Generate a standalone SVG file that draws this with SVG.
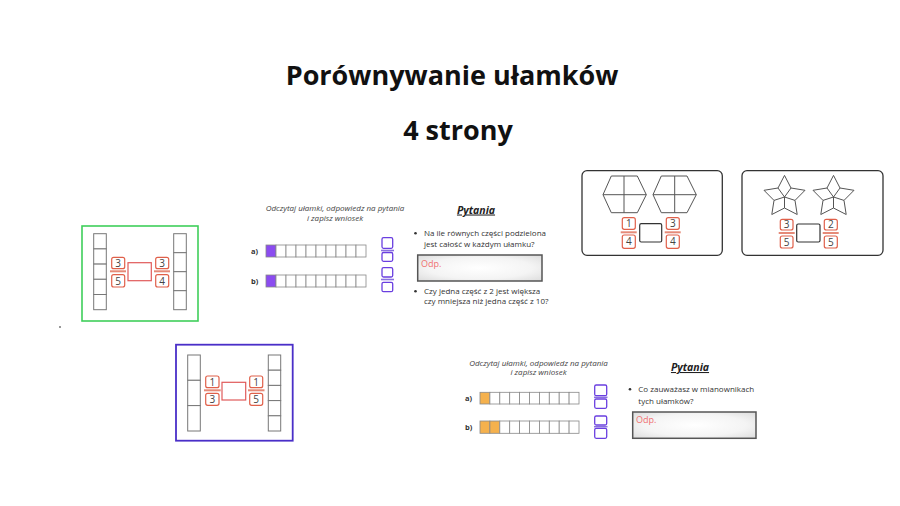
<svg xmlns="http://www.w3.org/2000/svg" width="900" height="506" viewBox="0 0 900 506">
<defs>
<radialGradient id="odpg" cx="0.5" cy="0.5" r="0.7">
<stop offset="0" stop-color="#ffffff"/>
<stop offset="0.6" stop-color="#f4f4f4"/>
<stop offset="1" stop-color="#dcdcdc"/>
</radialGradient>
<style>
.title{font-family:"Open Sans","Noto Sans",sans-serif;font-weight:bold;font-size:27px;fill:#111;text-anchor:middle}
.cell{fill:#fff;stroke:#777;stroke-width:1}
.fb{fill:#fff;stroke:#e0604a;stroke-width:1.2;rx:2}
.fl{stroke:#e58a78;stroke-width:2}
.num{font-family:"Open Sans","Noto Sans",sans-serif;font-size:10px;fill:#444;text-anchor:middle}
.mid{fill:#fff;stroke:#e05a5a;stroke-width:1.2}
.midd{fill:#fff;stroke:#333;stroke-width:1.2}
.card{fill:#fff;stroke:#333;stroke-width:1.3}
.shape{fill:#fff;stroke:#555;stroke-width:1}
.instr{font-family:"Open Sans","Noto Sans",sans-serif;font-style:italic;font-size:8px;fill:#444;text-anchor:middle}
.lab{font-family:"Open Sans","Noto Sans",sans-serif;font-weight:bold;font-size:7.5px;fill:#333}
.bar{fill:#fff;stroke:#888;stroke-width:0.8}
.pb{fill:#fff;stroke:#6a3fe0;stroke-width:1.3}
.pl{stroke:#8a70e0;stroke-width:1.6}
.pyt{font-family:"Open Sans","Noto Sans",sans-serif;font-weight:bold;font-style:italic;font-size:10.5px;fill:#222;text-anchor:middle;text-decoration:underline}
.q{font-family:"Open Sans","Noto Sans",sans-serif;font-size:8px;fill:#333}
.odp{fill:url(#odpg);stroke:#555;stroke-width:1.5}
.odpt{font-family:"Open Sans","Noto Sans",sans-serif;font-size:9px;fill:#f07070}
</style>
</defs>
<rect width="900" height="506" fill="#fff"/>

<g id="title">
<text class="title" x="452" y="85">Porównywanie ułamków</text>
<text class="title" x="458" y="140">4 strony</text>
</g>

<rect x="59" y="326" width="2" height="2" fill="#999"/>

<g id="green-card">
<rect x="82" y="226" width="116" height="95" fill="#fff" stroke="#3fcf5a" stroke-width="1.6"/>
<g>
<rect class="cell" x="93.7" y="233.7" width="12.6" height="15.2"/>
<rect class="cell" x="93.7" y="248.9" width="12.6" height="15.2"/>
<rect class="cell" x="93.7" y="264.1" width="12.6" height="15.2"/>
<rect class="cell" x="93.7" y="279.3" width="12.6" height="15.2"/>
<rect class="cell" x="93.7" y="294.5" width="12.6" height="15.2"/>
</g>
<g>
<rect class="cell" x="173.7" y="233.7" width="12.6" height="19"/>
<rect class="cell" x="173.7" y="252.7" width="12.6" height="19"/>
<rect class="cell" x="173.7" y="271.7" width="12.6" height="19"/>
<rect class="cell" x="173.7" y="290.7" width="12.6" height="19"/>
</g>
<rect class="fb" x="111.7" y="257.3" width="13" height="11.4"/>
<line class="fl" x1="110" y1="271.3" x2="126" y2="271.3"/>
<rect class="fb" x="111.7" y="274.7" width="13" height="12.3"/>
<text class="num" x="118.2" y="266.5">3</text>
<text class="num" x="118.2" y="284.5">5</text>
<rect class="mid" x="128" y="262.7" width="23.3" height="18"/>
<rect class="fb" x="155.7" y="257.3" width="13" height="11.4"/>
<line class="fl" x1="154" y1="271.3" x2="170" y2="271.3"/>
<rect class="fb" x="155.7" y="274.7" width="13" height="12.3"/>
<text class="num" x="162.2" y="266.5">3</text>
<text class="num" x="162.2" y="284.5">4</text>
</g>

<g id="worksheet-1">
<text class="instr" x="335" y="211">Odczytaj ułamki, odpowiedz na pytania</text>
<text class="instr" x="335" y="221">i zapisz wniosek</text>
<text class="lab" x="251" y="254">a)</text>
<text class="lab" x="251" y="284">b)</text>
<g>
<rect x="266" y="245" width="10" height="12" fill="#8b4cf0" stroke="#888" stroke-width="0.8"/>
<rect class="bar" x="276" y="245" width="10" height="12"/><rect class="bar" x="286" y="245" width="10" height="12"/>
<rect class="bar" x="296" y="245" width="10" height="12"/><rect class="bar" x="306" y="245" width="10" height="12"/>
<rect class="bar" x="316" y="245" width="10" height="12"/><rect class="bar" x="326" y="245" width="10" height="12"/>
<rect class="bar" x="336" y="245" width="10" height="12"/><rect class="bar" x="346" y="245" width="10" height="12"/>
<rect class="bar" x="356" y="245" width="10" height="12"/>
</g>
<g>
<rect x="266" y="275" width="10" height="12" fill="#8b4cf0" stroke="#888" stroke-width="0.8"/>
<rect class="bar" x="276" y="275" width="10" height="12"/><rect class="bar" x="286" y="275" width="10" height="12"/>
<rect class="bar" x="296" y="275" width="10" height="12"/><rect class="bar" x="306" y="275" width="10" height="12"/>
<rect class="bar" x="316" y="275" width="10" height="12"/><rect class="bar" x="326" y="275" width="10" height="12"/>
<rect class="bar" x="336" y="275" width="10" height="12"/><rect class="bar" x="346" y="275" width="10" height="12"/>
<rect class="bar" x="356" y="275" width="10" height="12"/>
</g>
<rect class="pb" x="382" y="237.7" width="10.7" height="10.6" rx="1.5"/>
<line class="pl" x1="381" y1="250.5" x2="394" y2="250.5"/>
<rect class="pb" x="382" y="252.5" width="10.7" height="8.8" rx="1.5"/>
<rect class="pb" x="382" y="267.7" width="10.7" height="9.3" rx="1.5"/>
<line class="pl" x1="381" y1="279.5" x2="394" y2="279.5"/>
<rect class="pb" x="382" y="282.3" width="10.7" height="9.4" rx="1.5"/>

<text class="pyt" x="476" y="213.5">Pytania</text>
<circle cx="415.5" cy="233.3" r="1.3" fill="#333"/>
<text class="q" x="424" y="236">Na ile równych części podzielona</text>
<text class="q" x="424" y="247.3">jest całość w każdym ułamku?</text>
<rect class="odp" x="417.7" y="255" width="124.3" height="26"/>
<text class="odpt" x="421" y="266.5">Odp.</text>
<circle cx="415.5" cy="291.3" r="1.3" fill="#333"/>
<text class="q" x="424" y="294">Czy jedna część z 2 jest większa</text>
<text class="q" x="424" y="304.3">czy mniejsza niż jedna część z 10?</text>
</g>

<g id="hexagon-card">
<rect class="card" x="582" y="170.7" width="140.3" height="84.6" rx="5"/>
<polygon class="shape" points="603,194.7 611.3,176 637.3,176 646.3,194.7 637.3,212.7 611.3,212.7"/>
<line x1="624" y1="176" x2="624" y2="212.7" stroke="#555" stroke-width="1"/>
<line x1="603" y1="194.7" x2="646.3" y2="194.7" stroke="#555" stroke-width="1"/>
<polygon class="shape" points="653,194.7 661.3,176 687,176 696.3,194.7 687,212.7 661.3,212.7"/>
<line x1="674.7" y1="176" x2="674.7" y2="212.7" stroke="#555" stroke-width="1"/>
<line x1="653" y1="194.7" x2="696.3" y2="194.7" stroke="#555" stroke-width="1"/>
<rect class="fb" x="622.3" y="217.7" width="13" height="11.6"/>
<line class="fl" x1="620.7" y1="232.3" x2="636.7" y2="232.3"/>
<rect class="fb" x="622.3" y="235" width="13" height="13.3"/>
<text class="num" x="628.8" y="227">1</text>
<text class="num" x="628.8" y="245.3">4</text>
<rect class="midd" x="639.7" y="223.7" width="22" height="18.3" rx="1.5"/>
<rect class="fb" x="666.3" y="217.7" width="13" height="11.6"/>
<line class="fl" x1="664.7" y1="232.3" x2="680.7" y2="232.3"/>
<rect class="fb" x="666.3" y="235" width="13" height="13.3"/>
<text class="num" x="672.8" y="227">3</text>
<text class="num" x="672.8" y="245.3">4</text>
</g>

<g id="star-card">
<rect class="card" x="742" y="170.7" width="141" height="84.6" rx="5"/>
<g transform="translate(784.5,197)">
<polygon class="shape" points="0,-21.6 6.5,-9 20.5,-6.7 10.5,3.4 12.7,17.5 0,11 -12.7,17.5 -10.5,3.4 -20.5,-6.7 -6.5,-9"/>
<path d="M0,0 L6.5,-9 M0,0 L10.5,3.4 M0,0 L0,11 M0,0 L-10.5,3.4 M0,0 L-6.5,-9" stroke="#555" stroke-width="1" fill="none"/>
</g>
<g transform="translate(833.5,197)">
<polygon class="shape" points="0,-21.6 6.5,-9 20.5,-6.7 10.5,3.4 12.7,17.5 0,11 -12.7,17.5 -10.5,3.4 -20.5,-6.7 -6.5,-9"/>
<path d="M0,0 L6.5,-9 M0,0 L10.5,3.4 M0,0 L0,11 M0,0 L-10.5,3.4 M0,0 L-6.5,-9" stroke="#555" stroke-width="1" fill="none"/>
</g>
<rect class="fb" x="780.3" y="219.3" width="12.7" height="10.7"/>
<line class="fl" x1="778.7" y1="233" x2="794.7" y2="233"/>
<rect class="fb" x="780.3" y="236" width="12.7" height="12"/>
<text class="num" x="786.7" y="228">3</text>
<text class="num" x="786.7" y="245.5">5</text>
<rect class="midd" x="796.7" y="224" width="23.3" height="18" rx="1.5"/>
<rect class="fb" x="824.3" y="219.3" width="13" height="10.7"/>
<line class="fl" x1="822.7" y1="233" x2="838.7" y2="233"/>
<rect class="fb" x="824.3" y="236" width="13" height="12"/>
<text class="num" x="830.8" y="228">2</text>
<text class="num" x="830.8" y="245.5">5</text>
</g>

<g id="blue-card">
<rect x="176" y="344.7" width="116.7" height="96" fill="#fff" stroke="#4a2fc8" stroke-width="1.8"/>
<rect class="cell" x="187.7" y="355" width="12.6" height="25.3"/>
<rect class="cell" x="187.7" y="380.3" width="12.6" height="25.3"/>
<rect class="cell" x="187.7" y="405.6" width="12.6" height="25.4"/>
<rect class="cell" x="268.3" y="355" width="12.4" height="15.2"/>
<rect class="cell" x="268.3" y="370.2" width="12.4" height="15.2"/>
<rect class="cell" x="268.3" y="385.4" width="12.4" height="15.2"/>
<rect class="cell" x="268.3" y="400.6" width="12.4" height="15.2"/>
<rect class="cell" x="268.3" y="415.8" width="12.4" height="15.2"/>
<rect class="fb" x="205.7" y="376" width="13.3" height="11.7"/>
<line class="fl" x1="204" y1="390.3" x2="220.7" y2="390.3"/>
<rect class="fb" x="205.7" y="393.3" width="13.3" height="12"/>
<text class="num" x="212.3" y="385.5">1</text>
<text class="num" x="212.3" y="403">3</text>
<rect class="mid" x="222" y="382.3" width="23.7" height="17.7"/>
<rect class="fb" x="249.7" y="376" width="13" height="11.7"/>
<line class="fl" x1="248" y1="390.3" x2="264.5" y2="390.3"/>
<rect class="fb" x="249.7" y="393.3" width="13" height="12"/>
<text class="num" x="256.2" y="385.5">1</text>
<text class="num" x="256.2" y="403">5</text>
</g>

<g id="worksheet-2">
<text class="instr" x="538.5" y="365.7">Odczytaj ułamki, odpowiedz na pytania</text>
<text class="instr" x="538.5" y="375">i zapisz wniosek</text>
<text class="lab" x="465" y="401">a)</text>
<text class="lab" x="465" y="430">b)</text>
<g>
<rect x="480" y="392.3" width="9.9" height="11.7" fill="#f5b14d" stroke="#888" stroke-width="0.8"/>
<rect class="bar" x="489.9" y="392.3" width="9.9" height="11.7"/><rect class="bar" x="499.8" y="392.3" width="9.9" height="11.7"/>
<rect class="bar" x="509.7" y="392.3" width="9.9" height="11.7"/><rect class="bar" x="519.6" y="392.3" width="9.9" height="11.7"/>
<rect class="bar" x="529.5" y="392.3" width="9.9" height="11.7"/><rect class="bar" x="539.4" y="392.3" width="9.9" height="11.7"/>
<rect class="bar" x="549.3" y="392.3" width="9.9" height="11.7"/><rect class="bar" x="559.2" y="392.3" width="9.9" height="11.7"/>
<rect class="bar" x="569.1" y="392.3" width="9.9" height="11.7"/>
</g>
<g>
<rect x="480" y="421" width="9.9" height="12.3" fill="#f5b14d" stroke="#888" stroke-width="0.8"/>
<rect x="489.9" y="421" width="9.9" height="12.3" fill="#f5b14d" stroke="#888" stroke-width="0.8"/>
<rect class="bar" x="499.8" y="421" width="9.9" height="12.3"/>
<rect class="bar" x="509.7" y="421" width="9.9" height="12.3"/><rect class="bar" x="519.6" y="421" width="9.9" height="12.3"/>
<rect class="bar" x="529.5" y="421" width="9.9" height="12.3"/><rect class="bar" x="539.4" y="421" width="9.9" height="12.3"/>
<rect class="bar" x="549.3" y="421" width="9.9" height="12.3"/><rect class="bar" x="559.2" y="421" width="9.9" height="12.3"/>
<rect class="bar" x="569.1" y="421" width="9.9" height="12.3"/>
</g>
<rect class="pb" x="594.7" y="385" width="12" height="10.7" rx="1.5"/>
<line class="pl" x1="594" y1="397.3" x2="607.5" y2="397.3"/>
<rect class="pb" x="594.7" y="399" width="12" height="9.3" rx="1.5"/>
<rect class="pb" x="594.7" y="416" width="12" height="9" rx="1.5"/>
<line class="pl" x1="594" y1="426.7" x2="607.5" y2="426.7"/>
<rect class="pb" x="594.7" y="428.3" width="12" height="10" rx="1.5"/>

<text class="pyt" x="690" y="371">Pytania</text>
<circle cx="630" cy="389.3" r="1.3" fill="#333"/>
<text class="q" x="638.3" y="392">Co zauważasz w mianownikach</text>
<text class="q" x="638.3" y="403.5">tych ułamków?</text>
<rect class="odp" x="632.7" y="412" width="123.3" height="26.3"/>
<text class="odpt" x="636" y="423">Odp.</text>
</g>
</svg>
